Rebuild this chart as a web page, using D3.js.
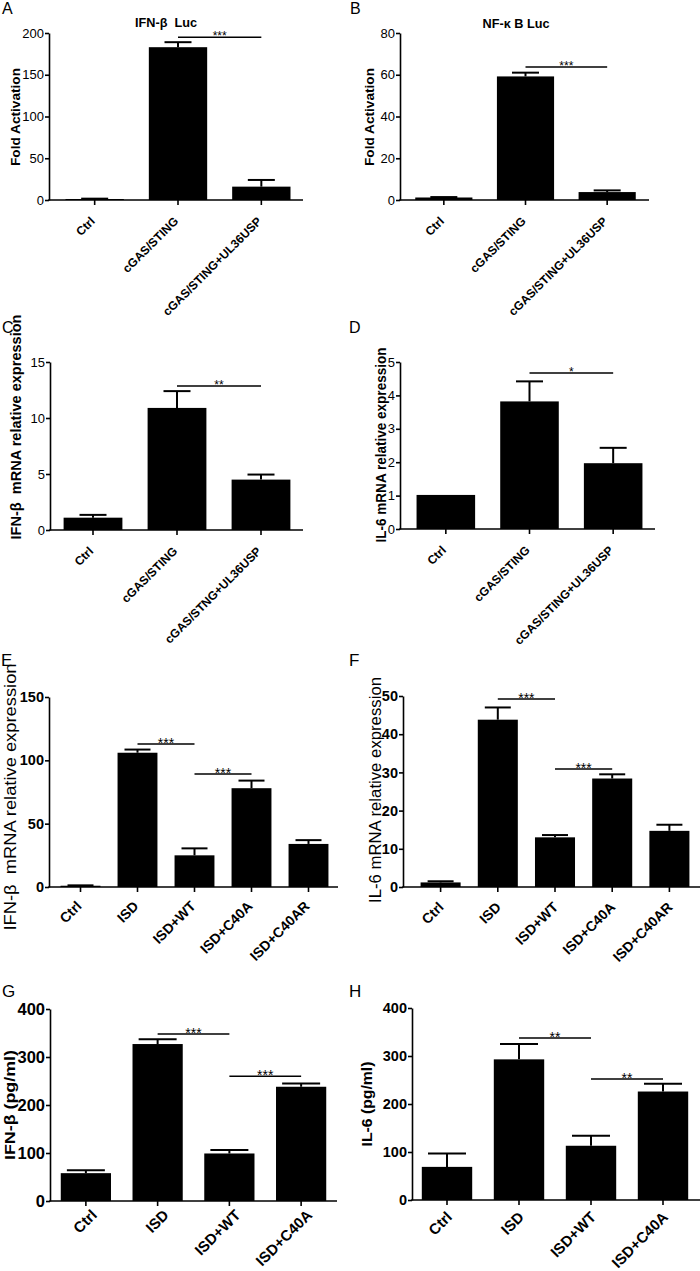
<!DOCTYPE html>
<html><head><meta charset="utf-8">
<script src="https://cdn.jsdelivr.net/npm/d3@7"></script>
<style>body{margin:0;background:#fff} svg{display:block} text{white-space:pre}</style>
</head><body>
<svg id="c" width="700" height="1271"></svg>
<script>
// ---------- data ----------
const catsA = ["Ctrl", "cGAS/STING", "cGAS/STING+UL36USP"];
const valsA = [1.2, 183, 16];
const errA  = [0.4, 6, 8];
const ticksA = [0, 50, 100, 150, 200];
const sigA = [{from: 1, to: 2, y: 195, label: "***"}];

const catsB = ["Ctrl", "cGAS/STING", "cGAS/STING+UL36USP"];
const valsB = [1.2, 59.2, 3.8];
const errB  = [0.2, 1.8, 0.8];
const ticksB = [0, 20, 40, 60, 80];
const sigB = [{from: 1, to: 2, y: 63.7, label: "***"}];

const catsC = ["Ctrl", "cGAS/STING", "cGAS/STNG+UL36USP"];
const valsC = [1.1, 10.9, 4.5];
const errC  = [0.25, 1.5, 0.45];
const ticksC = [0, 5, 10, 15];
const sigC = [{from: 1, to: 2, y: 12.86, label: "**"}];

const catsD = ["Ctrl", "cGAS/STING", "cGAS/STING+UL36USP"];
const valsD = [1.02, 3.82, 1.97];
const errD  = [0, 0.6, 0.46];
const ticksD = [0, 1, 2, 3, 4, 5];
const sigD = [{from: 1, to: 2, y: 4.67, label: "*"}];

const catsE = ["Ctrl", "ISD", "ISD+WT", "ISD+C40A", "ISD+C40AR"];
const valsE = [1, 106, 25, 78, 34];
const errE  = [0.3, 2.5, 5.5, 6, 3];
const ticksE = [0, 50, 100, 150];
const sigE = [{from: 1, to: 2, y: 112.9, label: "***"}, {from: 2, to: 3, y: 89.2, label: "***"}];

const catsF = ["Ctrl", "ISD", "ISD+WT", "ISD+C40A", "ISD+C40AR"];
const valsF = [1.2, 43.8, 13, 28.4, 14.7];
const errF  = [0.3, 3.2, 0.6, 1.1, 1.6];
const ticksF = [0, 10, 20, 30, 40, 50];
const sigF = [{from: 1, to: 2, y: 49.2, label: "***"}, {from: 2, to: 3, y: 30.9, label: "***"}];

const catsG = ["Ctrl", "ISD", "ISD+WT", "ISD+C40A"];
const valsG = [58, 327, 99, 238];
const errG  = [6, 10, 7, 7];
const ticksG = [0, 100, 200, 300, 400];
const sigG = [{from: 1, to: 2, y: 348, label: "***"}, {from: 2, to: 3, y: 260, label: "***"}];

const catsH = ["Ctrl", "ISD", "ISD+WT", "ISD+C40A"];
const valsH = [69, 293, 113, 226];
const errH  = [28, 32, 21, 16];
const ticksH = [0, 100, 200, 300, 400];
const sigH = [{from: 1, to: 2, y: 337.5, label: "**"}, {from: 2, to: 3, y: 252, label: "**"}];

// ---------- layout ----------
const FA = "'Liberation Sans', Arial, Helvetica, sans-serif";

const top4 = {tickSize: 13, tickWeight: "normal", xSize: 12, xdx: 1, xdy: 22, sigSize: 12, cap: 27, letterSize: 16};
const bot4 = {tickSize: 14.5, tickWeight: "bold", xSize: 14, xdx: 3, xdy: 21, sigSize: 14, letterSize: 17};

const panels = [
  Object.assign({}, top4, {letter: "A", lx: 2, ly: 14, cats: catsA, vals: valsA, errs: errA, ticks: ticksA, sig: sigA,
    left: 49, right: 303, band: [53, 303], top: 33, bottom: 200,
    title: "IFN-β  Luc", tx: 166, ty: 27,
    ylabel: "Fold Activation", ylx: 15, yly: 117, ylLen: 98, ylSize: 13, ylWeight: "bold"}),
  Object.assign({}, top4, {letter: "B", lx: 350, ly: 14, cats: catsB, vals: valsB, errs: errB, ticks: ticksB, sig: sigB,
    left: 400, right: 649, band: [403, 648], top: 33, bottom: 200,
    title: "NF-κ B Luc", tx: 516, ty: 28,
    ylabel: "Fold Activation", ylx: 369, yly: 117, ylLen: 98, ylSize: 13, ylWeight: "bold"}),
  Object.assign({}, top4, {letter: "C", lx: 2, ly: 333, cats: catsC, vals: valsC, errs: errC, ticks: ticksC, sig: sigC,
    left: 50, right: 303, band: [51, 303], top: 362, bottom: 530,
    ylabel: "IFN-β  mRNA relative expression", ylx: 16, yly: 427, ylLen: 225, ylSize: 14, ylWeight: "bold"}),
  Object.assign({}, top4, {letter: "D", lx: 349, ly: 333, cats: catsD, vals: valsD, errs: errD, ticks: ticksD, sig: sigD,
    left: 400, right: 655, band: [404, 655], top: 362, bottom: 529,
    ylabel: "IL-6 mRNA relative expression", ylx: 381, yly: 445, ylLen: 195, ylSize: 14, ylWeight: "bold"}),
  Object.assign({}, bot4, {letter: "E", lx: 1, ly: 666, cats: catsE, vals: valsE, errs: errE, ticks: ticksE, sig: sigE, cap: 26,
    left: 49, right: 338, band: [52, 337], top: 697, bottom: 887, xdx: 2, xdy: 20,
    ylabel: "IFN-β  mRNA relative expression", ylx: 10, yly: 797, ylLen: 267, ylSize: 16, ylWeight: "normal"}),
  Object.assign({}, bot4, {letter: "F", lx: 349, ly: 666, cats: catsF, vals: valsF, errs: errF, ticks: ticksF, sig: sigF, cap: 26,
    left: 403, right: 700, band: [412, 698], top: 696, bottom: 887, xdx: 4, xdy: 21,
    ylabel: "IL-6 mRNA relative expression", ylx: 375, yly: 790, ylLen: 226, ylSize: 16, ylWeight: "normal"}),
  Object.assign({}, bot4, {letter: "G", lx: 2, ly: 997, cats: catsG, vals: valsG, errs: errG, ticks: ticksG, sig: sigG, cap: 38,
    left: 50, right: 337, band: [50, 337], top: 1009, bottom: 1201, xdx: 12, xdy: 15, xSize: 15, tickSize: 16.5,
    ylabel: "IFN-β (pg/ml)", ylx: 10, yly: 1105, ylLen: 110, ylSize: 14, ylWeight: "bold"}),
  Object.assign({}, bot4, {letter: "H", lx: 349, ly: 997, cats: catsH, vals: valsH, errs: errH, ticks: ticksH, sig: sigH, cap: 38,
    left: 412, right: 700, band: [411, 699], top: 1008, bottom: 1200, xdx: 6, xdy: 18, xSize: 15,
    ylabel: "IL-6 (pg/ml)", ylx: 367, yly: 1104, ylLen: 85, ylSize: 14, ylWeight: "bold"})
];

const svg = d3.select("#c");

function drawPanel(p) {
  const g = svg.append("g");
  const ymax = p.ticks[p.ticks.length - 1];
  const y = d3.scaleLinear().domain([0, ymax]).range([p.bottom, p.top]);
  const x = d3.scaleBand().domain(p.cats).range(p.band).paddingInner(0.3).paddingOuter(0.15);
  const cx = c => x(c) + x.bandwidth() / 2;
  const rows = p.cats.map((c, i) => ({c, v: p.vals[i], e: p.errs[i]}));

  // bars
  g.selectAll("rect.bar").data(rows).join("rect").attr("class", "bar")
    .attr("x", d => x(d.c)).attr("width", x.bandwidth())
    .attr("y", d => y(d.v)).attr("height", d => y(0) - y(d.v))
    .attr("fill", "#000");

  // error bars (upper only)
  const eb = rows.filter(d => d.e > 0);
  g.selectAll("line.ev").data(eb).join("line").attr("class", "ev")
    .attr("x1", d => cx(d.c)).attr("x2", d => cx(d.c))
    .attr("y1", d => y(d.v)).attr("y2", d => y(d.v + d.e))
    .attr("stroke", "#000").attr("stroke-width", 2);
  g.selectAll("line.ec").data(eb).join("line").attr("class", "ec")
    .attr("x1", d => cx(d.c) - p.cap / 2).attr("x2", d => cx(d.c) + p.cap / 2)
    .attr("y1", d => y(d.v + d.e)).attr("y2", d => y(d.v + d.e))
    .attr("stroke", "#000").attr("stroke-width", 2);

  // y axis
  const ya = g.append("g").attr("transform", `translate(${p.left},0)`)
    .call(d3.axisLeft(y).tickValues(p.ticks).tickSize(4).tickPadding(1).tickSizeOuter(0).tickFormat(d3.format("d")));
  ya.select(".domain").attr("stroke-width", 1.6);
  ya.selectAll(".tick line").attr("stroke-width", 1.6);
  ya.selectAll(".tick text").attr("font-family", FA).attr("font-size", p.tickSize)
    .attr("font-weight", p.tickWeight).attr("fill", "#000");

  // x axis
  const xa = g.append("g").attr("transform", `translate(0,${p.bottom})`)
    .call(d3.axisBottom(x).tickSize(5).tickSizeOuter(0));
  xa.select(".domain").remove();
  xa.selectAll(".tick line").attr("stroke-width", 1.6);
  xa.selectAll(".tick text")
    .attr("font-family", FA).attr("font-size", p.xSize).attr("font-weight", "bold").attr("fill", "#000")
    .attr("text-anchor", "end").attr("x", 0).attr("y", 0).attr("dy", 0)
    .attr("transform", `translate(${p.xdx},${p.xdy}) rotate(-45)`);
  g.append("line").attr("x1", p.left - 0.8).attr("x2", p.right).attr("y1", p.bottom).attr("y2", p.bottom)
    .attr("stroke", "#000").attr("stroke-width", 1.6);

  // significance brackets
  p.sig.forEach(s => {
    const x1 = cx(p.cats[s.from]), x2 = cx(p.cats[s.to]), yy = y(s.y);
    g.append("line").attr("x1", x1).attr("x2", x2).attr("y1", yy).attr("y2", yy)
      .attr("stroke", "#000").attr("stroke-width", 1.4);
    g.append("text").attr("x", (x1 + x2) / 2).attr("y", yy - 4 + 0.58 * p.sigSize)
      .attr("text-anchor", "middle").attr("font-family", FA).attr("font-size", p.sigSize)
      .attr("fill", "#000").text(s.label);
  });

  // y label
  g.append("text").attr("transform", `translate(${p.ylx},${p.yly}) rotate(-90)`)
    .attr("text-anchor", "middle").attr("dy", "0.35em")
    .attr("font-family", FA).attr("font-size", p.ylSize).attr("font-weight", p.ylWeight)
    .attr("textLength", p.ylLen).attr("lengthAdjust", "spacingAndGlyphs")
    .attr("fill", "#000").text(p.ylabel);

  // title
  if (p.title) {
    g.append("text").attr("x", p.tx).attr("y", p.ty).attr("text-anchor", "middle")
      .attr("font-family", FA).attr("font-size", 12.7).attr("font-weight", "bold").attr("fill", "#000")
      .text(p.title);
  }

  // panel letter
  g.append("text").attr("x", p.lx).attr("y", p.ly)
    .attr("font-family", FA).attr("font-size", p.letterSize).attr("fill", "#000").text(p.letter);
}

panels.forEach(drawPanel);
</script>
</body></html>
